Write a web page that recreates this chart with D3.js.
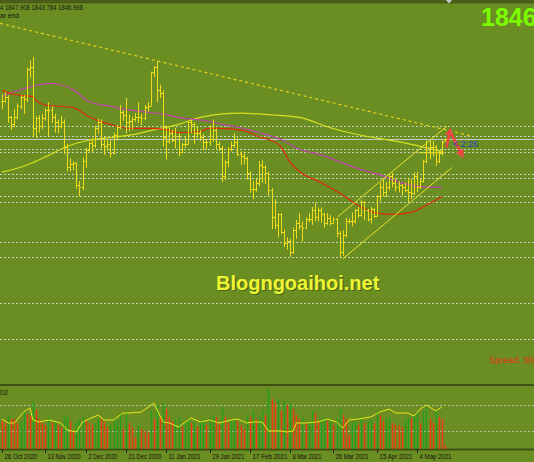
<!DOCTYPE html>
<html><head><meta charset="utf-8">
<script src="https://cdn.jsdelivr.net/npm/d3@7"></script>
<style>
body{margin:0;background:#6b8e23;overflow:hidden;}
svg{display:block;font-family:"Liberation Sans",Arial,sans-serif;}
</style></head>
<body><svg id="c" width="534" height="462"></svg>
<script>
// ---- data (daily XAUUSD bars, 26 Oct 2020 .. 17 May 2021) ----
const opens=[1902,1902,1908,1878,1868,1879,1894,1908,1904,1948,1951,1862,1877,1866,1877,1888,1888,1878,1872,1865,1871,1836,1806,1811,1812,1781,1777,1815,1831,1841,1838,1862,1871,1839,1837,1840,1827,1853,1864,1886,1881,1871,1873,1876,1878,1879,1877,1893,1895,1943,1950,1918,1913,1849,1844,1856,1845,1851,1828,1839,1840,1871,1869,1855,1856,1850,1843,1843,1847,1860,1839,1834,1793,1813,1833,1838,1843,1825,1823,1819,1798,1775,1775,1784,1809,1806,1798,1773,1734,1723,1738,1712,1697,1700,1684,1716,1726,1722,1719,1731,1731,1745,1735,1745,1738,1726,1733,1726,1731,1711,1684,1708,1729,1728,1729,1744,1737,1756,1744,1732,1746,1736,1764,1777,1770,1778,1794,1783,1777,1780,1778,1773,1771,1769,1793,1778,1786,1815,1831,1836,1836,1815,1826,1844];
const highs=[1911,1914,1910,1880,1890,1898,1910,1910,1950,1960,1965,1880,1881,1883,1891,1900,1894,1883,1875,1880,1875,1840,1819,1815,1813,1786,1820,1834,1843,1848,1866,1876,1875,1850,1847,1845,1856,1867,1896,1888,1906,1882,1879,1884,1900,1883,1896,1900,1944,1952,1959,1925,1917,1866,1863,1860,1863,1855,1841,1851,1872,1875,1871,1865,1860,1854,1847,1866,1875,1862,1843,1837,1816,1835,1843,1855,1848,1829,1826,1821,1800,1786,1790,1815,1816,1809,1799,1776,1760,1740,1740,1716,1705,1703,1719,1730,1740,1728,1734,1740,1749,1755,1748,1748,1740,1740,1737,1734,1733,1714,1715,1733,1732,1741,1746,1749,1759,1757,1746,1749,1747,1766,1784,1790,1785,1797,1798,1790,1786,1782,1784,1790,1789,1799,1799,1789,1817,1845,1845,1844,1838,1829,1845,1848];
const lows=[1890,1899,1870,1860,1864,1875,1890,1883,1900,1935,1850,1848,1856,1861,1873,1850,1870,1856,1855,1862,1825,1800,1800,1802,1775,1764,1773,1805,1829,1828,1834,1855,1833,1824,1830,1820,1825,1845,1861,1873,1855,1858,1860,1872,1870,1867,1874,1886,1895,1936,1900,1906,1836,1817,1840,1842,1833,1822,1826,1834,1839,1855,1840,1848,1844,1831,1832,1837,1843,1833,1830,1785,1788,1806,1829,1834,1822,1809,1810,1788,1769,1760,1771,1779,1784,1782,1765,1717,1717,1705,1710,1691,1687,1677,1681,1703,1716,1699,1718,1727,1723,1728,1728,1726,1719,1723,1722,1725,1705,1677,1678,1705,1725,1721,1725,1733,1735,1730,1728,1725,1733,1735,1757,1764,1763,1773,1777,1771,1770,1765,1770,1756,1760,1766,1770,1775,1784,1812,1818,1822,1808,1812,1823,1844];
const closes=[1902,1908,1878,1868,1879,1894,1908,1904,1948,1951,1862,1877,1866,1877,1888,1888,1878,1872,1865,1871,1836,1806,1811,1812,1781,1777,1815,1831,1841,1838,1862,1871,1839,1837,1840,1827,1853,1864,1886,1881,1871,1873,1876,1878,1879,1877,1893,1895,1943,1950,1918,1913,1849,1844,1856,1845,1851,1828,1839,1840,1871,1869,1855,1856,1850,1843,1843,1847,1860,1839,1834,1793,1813,1833,1838,1843,1825,1823,1819,1798,1775,1775,1784,1809,1806,1798,1773,1734,1723,1738,1712,1697,1700,1684,1716,1726,1722,1719,1731,1731,1745,1735,1745,1738,1726,1733,1726,1731,1711,1684,1708,1729,1728,1729,1744,1737,1756,1744,1732,1746,1736,1764,1777,1770,1778,1794,1783,1777,1780,1778,1773,1771,1769,1793,1778,1786,1815,1831,1836,1836,1815,1826,1843,1847];
const volumes=[140,130,165,150,150,130,140,190,175,165,235,195,150,130,120,160,130,140,120,110,160,165,140,90,130,150,160,145,130,120,130,150,150,135,110,120,140,150,180,100,190,130,110,60,120,100,90,80,190,150,220,160,230,200,160,140,150,160,110,140,150,130,140,110,140,150,120,150,170,160,120,210,160,130,140,150,140,120,100,170,160,190,150,160,200,170,300,250,230,250,190,240,220,230,200,170,150,160,130,140,190,180,140,150,160,140,150,120,150,200,170,150,70,130,140,120,160,130,140,150,130,190,170,140,150,160,130,120,120,110,150,160,150,170,180,130,190,210,150,130,190,160,150,20];
// moving averages: [bar index, price]
const maRed=[[0,1917],[4,1911],[10,1908],[11,1902],[15,1895],[19,1894],[23,1892],[28,1879],[35,1868],[41,1862],[48,1862],[53,1860],[57,1856],[64,1858],[67,1862],[70,1862],[78,1859],[83,1850],[86,1846],[90,1836],[93,1813],[96,1800],[103,1784],[109,1769],[115,1751],[120,1741],[126,1738],[132,1741],[136,1749],[142,1764]];
const maMagenta=[[0,1908],[4,1915],[10,1923],[15,1927],[19,1925],[23,1918],[28,1901],[35,1894],[42,1888],[48,1885],[53,1882],[57,1878],[67,1872],[71,1868],[77,1863],[83,1856],[90,1846],[96,1832],[103,1824],[109,1814],[115,1804],[122,1795],[128,1785],[135,1778],[142,1777]];
const maYellow=[[0,1799],[6,1806],[10,1813],[14,1821],[21,1836],[28,1845],[35,1849],[42,1853],[49,1860],[57,1868],[64,1878],[77,1884],[86,1882],[96,1878],[106,1863],[115,1853],[128,1843],[142,1829]];
const volMA=[[0,150],[2,130],[4,130],[7,185],[9,205],[10,145],[12,135],[15,145],[19,130],[21,95],[24,85],[26,135],[31,170],[33,145],[36,145],[39,180],[41,180],[45,185],[49,230],[52,135],[54,130],[57,110],[61,155],[64,135],[67,145],[70,130],[74,145],[76,150],[79,130],[81,135],[84,135],[86,90],[90,90],[92,85],[94,90],[95,130],[98,130],[102,135],[105,150],[108,135],[110,105],[112,145],[115,150],[119,160],[122,185],[125,200],[127,180],[131,180],[133,165],[135,200],[137,220],[140,190],[142,210]];
const trendLine=[[-0.65,2013.6],[151,1851.8]];
const channelUpper=[[108.4,1734.8],[143.5,1864.8]];
const channelLower=[[110,1674],[145.2,1805.5]];
const shortLevel=[[134.5,1827],[142.5,1827]];
const arrowUp=[[143.5,1834.4],[144.6,1858.5]];
const arrowDown=[[144.6,1858.5],[148.5,1823.5]];
const levels=[1865,1850.6,1832.5,1827.5,1797,1790,1764,1756,1699,1676.5,1611,1559];
const bidPrice=1847;
const volLevels=[220,90];
const tickIdx=[0,14,27,40,53,67,80,93,107,121,134];
const tickLabels=["26 Oct 2020","13 Nov 2020","2 Dec 2020","21 Dec 2020","11 Jan 2021","29 Jan 2021","17 Feb 2021","8 Mar 2021","26 Mar 2021","15 Apr 2021","4 May 2021"];

// ---- drawing ----
const W=534,H=462;
const svg=d3.select("#c");
const x=d3.scaleLinear().domain([0,143]).range([2,445]);
const y=d3.scaleLinear().domain([1493.5,2041.5]).range([384,4]);
const yv=d3.scaleLinear().domain([0,315]).range([449,386]);

svg.append("rect").attr("width",W).attr("height",H).attr("fill","#6b8e23");
const defs=svg.append("defs");
defs.append("clipPath").attr("id","mainClip").append("rect").attr("x",0).attr("y",4).attr("width",W).attr("height",380);
defs.append("clipPath").attr("id","volClip").append("rect").attr("x",0).attr("y",386).attr("width",W).attr("height",63);
defs.append("marker").attr("id","ah").attr("viewBox","0 0 10 10").attr("refX",6).attr("refY",5)
  .attr("markerWidth",3.2).attr("markerHeight",3.2).attr("orient","auto")
  .append("path").attr("d","M0,0 L10,5 L0,10 z").attr("fill","#f04545");

// frame strips
svg.append("rect").attr("x",0).attr("y",0).attr("width",W).attr("height",3.5).attr("fill","#4a5e1a");
svg.append("rect").attr("x",0).attr("y",384).attr("width",W).attr("height",2).attr("fill","#3f5015");
svg.append("rect").attr("x",0).attr("y",448.5).attr("width",W).attr("height",2).attr("fill","#3f5015");
svg.append("path").attr("d","M446,0 L452,0 L449,3.5 Z").attr("fill","#c8c8c8");

const main=svg.append("g").attr("clip-path","url(#mainClip)");
main.selectAll("line.lvl").data(levels).join("line").attr("class","lvl")
  .attr("x1",0).attr("x2",W).attr("y1",d=>Math.round(y(d))+0.5).attr("y2",d=>Math.round(y(d))+0.5)
  .attr("stroke","#dcdcdc").attr("stroke-width",1).attr("stroke-dasharray","2,2").attr("opacity",0.85);
main.append("line").attr("x1",0).attr("x2",W).attr("y1",Math.round(y(bidPrice))+0.5).attr("y2",Math.round(y(bidPrice))+0.5)
  .attr("stroke","#c8c8c8").attr("stroke-width",1);

const lineGen=d3.line().x(d=>x(d[0])).y(d=>y(d[1])).curve(d3.curveMonotoneX);
main.append("path").attr("d",lineGen(maYellow)).attr("fill","none").attr("stroke","#d6e01e").attr("stroke-width",1.2);
main.append("path").attr("d",lineGen(maMagenta)).attr("fill","none").attr("stroke","#c040b0").attr("stroke-width",1.2);
main.append("path").attr("d",lineGen(maRed)).attr("fill","none").attr("stroke","#e02a10").attr("stroke-width",1.2);

const straight=d3.line().x(d=>x(d[0])).y(d=>y(d[1]));
main.append("path").attr("d",straight(trendLine)).attr("fill","none").attr("stroke","#e3d21c").attr("stroke-width",1.2).attr("stroke-dasharray","3,3");
main.append("path").attr("d",straight(channelUpper)).attr("fill","none").attr("stroke","#e6e22a").attr("stroke-width",1);
main.append("path").attr("d",straight(channelLower)).attr("fill","none").attr("stroke","#e6e22a").attr("stroke-width",1);
main.append("path").attr("d",straight(shortLevel)).attr("fill","none").attr("stroke","#e6e22a").attr("stroke-width",1);

// OHLC bars
const bars=main.append("g").attr("stroke","#f0dc1a").attr("stroke-width",1);
opens.forEach((o,i)=>{
  const cx=Math.round(x(i))+0.5;
  bars.append("line").attr("x1",cx).attr("x2",cx).attr("y1",y(highs[i])).attr("y2",y(lows[i]));
  bars.append("line").attr("x1",cx-1.5).attr("x2",cx).attr("y1",Math.round(y(o))+0.5).attr("y2",Math.round(y(o))+0.5);
  bars.append("line").attr("x1",cx).attr("x2",cx+1.5).attr("y1",Math.round(y(closes[i]))+0.5).attr("y2",Math.round(y(closes[i]))+0.5);
});

// red arrow
main.append("path").attr("d",straight(arrowUp)).attr("fill","none").attr("stroke","#f04545").attr("stroke-width",2.6).attr("marker-end","url(#ah)");
main.append("path").attr("d",straight(arrowDown)).attr("fill","none").attr("stroke","#f04545").attr("stroke-width",2.6).attr("marker-end","url(#ah)");
main.append("text").attr("x",453).attr("y",147).attr("font-size",9).attr("fill","#2a3fc0").text("< 2:26");

// watermark
main.append("text").attr("x",216).attr("y",290).attr("font-size",20).attr("font-weight","bold")
  .attr("fill","#3c4a10").attr("opacity",0.6).attr("dx",1.2).attr("dy",1.2).text("Blogngoaihoi.net");
main.append("text").attr("x",216).attr("y",290).attr("font-size",20).attr("font-weight","bold")
  .attr("fill","#eef533").text("Blogngoaihoi.net");
main.append("text").attr("x",489).attr("y",363).attr("font-size",9).attr("fill","#e03418").text("Spread: 300");

// header texts
svg.append("text").attr("x",0).attr("y",10).attr("font-size",7).attr("fill","#111")
  .attr("textLength",83).attr("lengthAdjust","spacingAndGlyphs").text("4 1847.908 1843.784 1846.998");
svg.append("text").attr("x",0).attr("y",17.5).attr("font-size",7).attr("fill","#111")
  .attr("textLength",19).attr("lengthAdjust","spacingAndGlyphs").text("ar end");
svg.append("text").attr("x",481).attr("y",25.5).attr("font-size",25).attr("font-weight","bold").attr("fill","#7cfc00").text("1846");

// volume panel
const vol=svg.append("g").attr("clip-path","url(#volClip)");
vol.selectAll("line.vl").data(volLevels).join("line").attr("class","vl")
  .attr("x1",0).attr("x2",W).attr("y1",d=>Math.round(yv(d))+0.5).attr("y2",d=>Math.round(yv(d))+0.5)
  .attr("stroke","#c8c8c8").attr("stroke-width",1).attr("stroke-dasharray","2,2").attr("opacity",0.8);
vol.selectAll("line.vb").data(volumes).join("line").attr("class","vb")
  .attr("x1",(d,i)=>Math.round(x(i))+0.5).attr("x2",(d,i)=>Math.round(x(i))+0.5)
  .attr("y1",yv(0)).attr("y2",d=>yv(d))
  .attr("stroke",(d,i)=> i>0 && d>volumes[i-1] ? "#22a020" : "#f03a14").attr("stroke-width",1.4);
vol.append("path").attr("d",d3.line().x(d=>x(d[0])).y(d=>yv(d[1]))(volMA)).attr("fill","none").attr("stroke","#e8e81a").attr("stroke-width",1);
svg.append("text").attr("x",0).attr("y",394.5).attr("font-size",7).attr("fill","#111").text("02");

// date axis
const labelWidths=[33,33,29,33,32,32,35,29,33,33,32];
const ax=svg.append("g");
tickIdx.forEach((k,j)=>{
  const tx=Math.round(x(k))+0.5;
  ax.append("line").attr("x1",tx).attr("x2",tx).attr("y1",449).attr("y2",453).attr("stroke","#222");
  ax.append("text").attr("x",tx+2).attr("y",459).attr("font-size",7.2).attr("fill","#111")
    .attr("textLength",labelWidths[j]).attr("lengthAdjust","spacingAndGlyphs").text(tickLabels[j]);
});
</script></body></html>
